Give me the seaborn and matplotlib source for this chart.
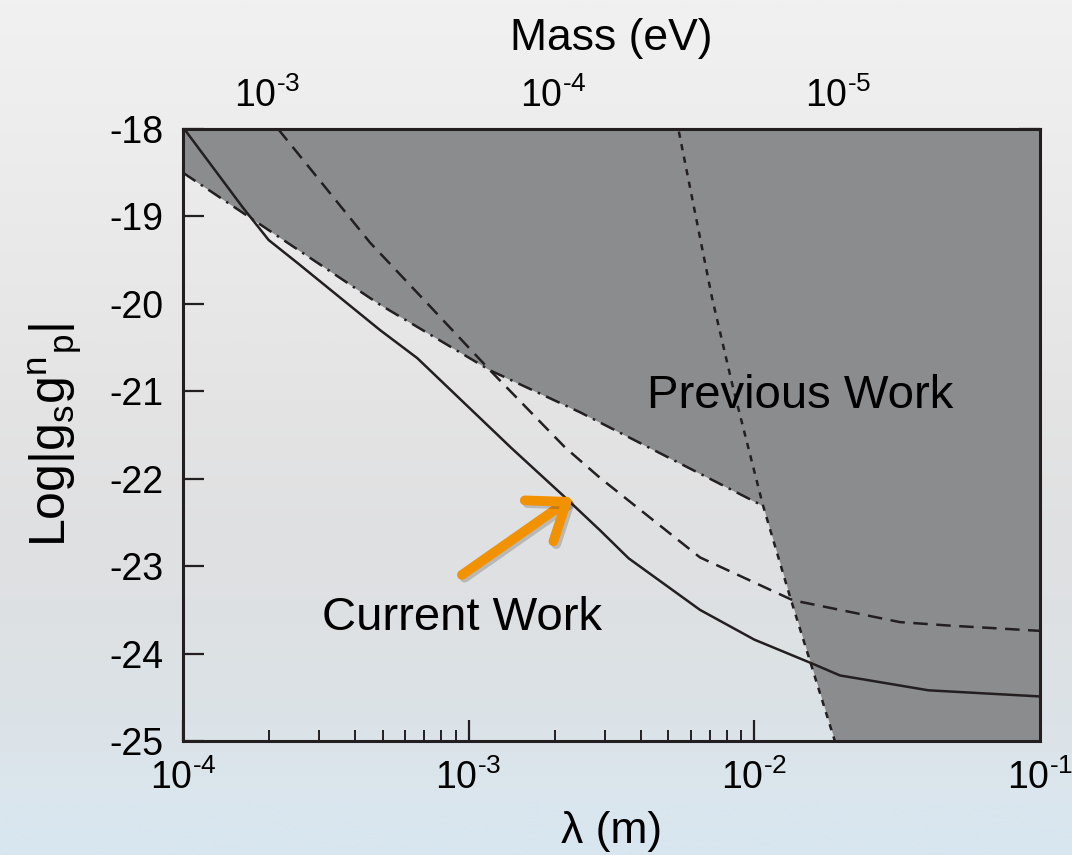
import numpy as np
import pandas as pd
import matplotlib
matplotlib.use("Agg")
import matplotlib.pyplot as plt
import matplotlib.patheffects as pe
from matplotlib.colors import LinearSegmentedColormap
from matplotlib.ticker import FuncFormatter
import seaborn as sns

# ---------------- data ----------------
# Current work (solid): log10(lambda/m), Log|gs gp|
cur_logx = [-4.0, -3.79, -3.70, -3.60, -3.31, -3.18, -2.85, -2.67, -2.54, -2.44,
            -2.19, -2.0, -1.80, -1.70, -1.39, -1.0]
cur_y = [-17.98, -18.9, -19.27, -19.53, -20.30, -20.62, -21.65, -22.19, -22.59, -22.91,
         -23.50, -23.84, -24.11, -24.25, -24.42, -24.49]

# dashed curve
dash_logx = [-3.667, -3.345, -3.146, -2.925, -2.663, -2.54, -2.19, -1.865, -1.49, -1.315, -1.0]
dash_y = [-18.0, -19.30, -19.99, -20.76, -21.64, -21.99, -22.90, -23.39, -23.64, -23.68, -23.74]

# dash-dot limit (previous work, upper part)
dd_logx = [-4.0, -3.31, -2.925, -2.61, -1.97]
dd_y = [-18.5, -20.01, -20.76, -21.24, -22.31]

# dotted limit (previous work, steep part)
dot_logx = [-2.264, -2.148, -2.075, -1.97, -1.875, -1.718]
dot_y = [-18.03, -19.93, -20.95, -22.30, -23.35, -25.0]

y_ticks = [-18, -19, -20, -21, -22, -23, -24, -25]
mass_ticks = [1e-3, 1e-4, 1e-5]
HBARC = 1.973e-7  # eV m

# ---------------- style ----------------
sns.set_theme(style="ticks")
plt.rcParams["font.family"] = ["Liberation Sans", "DejaVu Sans"]
plt.rcParams["mathtext.fontset"] = "custom"
plt.rcParams["mathtext.rm"] = "Liberation Sans"
plt.rcParams["mathtext.it"] = "Liberation Sans:italic"
plt.rcParams["mathtext.bf"] = "Liberation Sans:bold"
plt.rcParams["axes.unicode_minus"] = False
for k in ["text.color", "axes.labelcolor", "xtick.labelcolor", "ytick.labelcolor"]:
    plt.rcParams[k] = "black"

INK = "#231f20"
GRAY = "#8b8c8e"

fig = plt.figure(figsize=(10.72, 8.55), dpi=100)

# background gradient
bg = fig.add_axes([0, 0, 1, 1], zorder=-10)
stops = [(0.0, (241, 241, 241)), (0.12, (238, 238, 238)), (0.47, (228, 228, 228)),
         (0.64, (223, 224, 226)), (0.82, (220, 226, 230)), (0.94, (218, 230, 238)),
         (1.0, (216, 230, 240))]
cmap = LinearSegmentedColormap.from_list("bg", [(p, tuple(c / 255 for c in col)) for p, col in stops])
grad = np.linspace(0, 1, 512).reshape(-1, 1)
bg.imshow(grad, aspect="auto", cmap=cmap, extent=[0, 1, 0, 1], origin="upper")
bg.axis("off")

ax = fig.add_axes([0.1707, 0.1333, 0.7994, 0.7158], zorder=1)
ax.patch.set_alpha(0)

# excluded region (previous work)
bx = list(dd_logx) + [v for v in dot_logx if v > dd_logx[-1]] + [-1.0]
by = list(dd_y) + [y for v, y in zip(dot_logx, dot_y) if v > dd_logx[-1]] + [-25.0]
bx = 10 ** np.array(bx)
ax.fill_between(bx, by, -18, color=GRAY, lw=0, zorder=1)

cur = pd.DataFrame({"lam": 10 ** np.array(cur_logx), "g": cur_y})
dsh = pd.DataFrame({"lam": 10 ** np.array(dash_logx), "g": dash_y})
ddf = pd.DataFrame({"lam": 10 ** np.array(dd_logx), "g": dd_y})
dot = pd.DataFrame({"lam": 10 ** np.array(dot_logx), "g": dot_y})

LW = 1.8
l1 = sns.lineplot(data=cur, x="lam", y="g", ax=ax, color=INK, lw=LW, sort=False, zorder=3).lines[-1]
l1.set_solid_joinstyle("round")
l2 = sns.lineplot(data=dsh, x="lam", y="g", ax=ax, color=INK, lw=LW, sort=False, zorder=3).lines[-1]
l2.set_dashes([5.8, 3.4])
l3 = sns.lineplot(data=ddf, x="lam", y="g", ax=ax, color=INK, lw=LW, sort=False, zorder=3).lines[-1]
l3.set_dashes([6.0, 2.6, 1.0, 2.6])
l4 = sns.lineplot(data=dot, x="lam", y="g", ax=ax, color=INK, lw=LW, sort=False, zorder=3).lines[-1]
l4.set_dashes([2.5, 2.6])

ax.set_xscale("log")
ax.set_xlim(1e-4, 1e-1)
ax.set_ylim(-25, -18)
ax.set_yticks(y_ticks)
ax.set_yticklabels([str(v) for v in y_ticks])


def pow_fmt(v, pos=None):
    e = int(round(np.log10(v)))
    return r"$\mathregular{10^{\text{-}%d}}$" % abs(e)


ax.xaxis.set_major_formatter(FuncFormatter(pow_fmt))

for s in ax.spines.values():
    s.set_linewidth(2.2)
    s.set_color(INK)
    s.set_zorder(5)

ax.tick_params(axis="both", which="major", direction="in", length=15, width=1.6,
               color=INK, labelsize=27, labelcolor="black", top=False, right=True)
ax.tick_params(axis="x", which="major", pad=13)
ax.tick_params(axis="y", which="major", pad=14)
ax.tick_params(axis="x", which="minor", direction="in", length=8, width=1.4, color=INK, top=False)
ax.tick_params(axis="y", which="minor", left=False, right=False)

ax.set_xlabel("λ (m)", fontsize=32, labelpad=10)
ax.set_ylabel(r"Log|g$_\mathregular{s}$g$^\mathregular{n}$$_\mathregular{p}$|", fontsize=36, labelpad=18)

sec = ax.secondary_xaxis("top", functions=(lambda x: HBARC / x, lambda m: HBARC / m))
sec.set_xticks(mass_ticks)
sec.xaxis.set_major_formatter(FuncFormatter(pow_fmt))
sec.tick_params(axis="x", which="major", direction="in", length=15, width=1.6, color=INK,
                labelsize=27, pad=10)
sec.tick_params(axis="x", which="minor", direction="in", length=8, width=1.4, color=INK)
sec.spines["top"].set_linewidth(2.2)
sec.spines["top"].set_color(INK)
sec.set_xlabel("Mass (eV)", fontsize=32, labelpad=20)

ax.text(1.445e-2, -21.05, "Previous Work", fontsize=34, ha="center", va="center", zorder=6)
ax.text(9.47e-4, -23.59, "Current Work", fontsize=34, ha="center", va="center", zorder=6)

ax.annotate("", xy=(2.32e-3, -22.21), xytext=(9.47e-4, -23.10),
            arrowprops=dict(arrowstyle="->,head_length=0.6,head_width=0.45", lw=7,
                            color="#f39200", mutation_scale=40, capstyle="round",
                            joinstyle="round", shrinkA=0, shrinkB=0,
                            path_effects=[pe.SimpleLineShadow(offset=(2, -2), alpha=0.2), pe.Normal()]),
            zorder=7)

fig.savefig("out.png", dpi=100)
